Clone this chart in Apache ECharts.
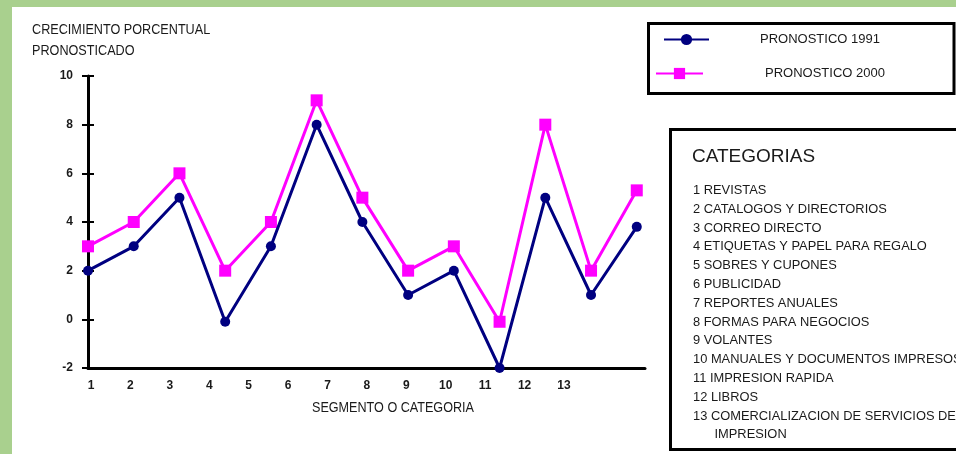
<!DOCTYPE html>
<html><head><meta charset="utf-8">
<script src="https://cdn.jsdelivr.net/npm/echarts@6/dist/echarts.min.js"></script>
<style>html,body{margin:0;padding:0;background:#a9d08e;}#c{width:956px;height:454px;}</style>
</head><body><div id="c"></div>
<script>
const segmentTicks = ['1','2','3','4','5','6','7','8','9','10','11','12','13'];
const pronostico1991 = [2, 3, 5, -0.1, 3, 8, 4, 1, 2, -2, 5, 1, 3.8];
const pronostico2000 = [3, 4, 6, 2, 4, 9, 5, 2, 3, -0.1, 8, 2, 5.3];
const seriesNames = ['PRONOSTICO 1991', 'PRONOSTICO 2000'];
const titleLines = ['CRECIMIENTO PORCENTUAL', 'PRONOSTICADO'];
const xAxisTitle = 'SEGMENTO O CATEGORIA';
const categoryHeader = 'CATEGORIAS';
const categoryNames = [
  '1 REVISTAS',
  '2 CATALOGOS Y DIRECTORIOS',
  '3 CORREO DIRECTO',
  '4 ETIQUETAS Y PAPEL PARA REGALO',
  '5 SOBRES Y CUPONES',
  '6 PUBLICIDAD',
  '7 REPORTES ANUALES',
  '8 FORMAS PARA NEGOCIOS',
  '9 VOLANTES',
  '10 MANUALES Y DOCUMENTOS IMPRESOS',
  '11 IMPRESION RAPIDA',
  '12 LIBROS',
  '13 COMERCIALIZACION DE SERVICIOS DE',
  '      IMPRESION'
];
const SANS = '"Liberation Sans", Arial, sans-serif';
const TXT = '#1a1a1a';

const chart = echarts.init(document.getElementById('c'), null, {renderer: 'canvas'});

const catGraphics = categoryNames.map((t, i) => ({
  type: 'text', x: 693, y: 190.5 + i * 18.8, z: 1, scaleX: 0.99,
  style: {text: t, fontSize: 13, fontFamily: SANS, fill: TXT, verticalAlign: 'middle'}
}));
const titleGraphics = titleLines.map((t, i) => ({
  type: 'text', x: 32, y: 30 + i * 21, z: 1, scaleX: 0.843,
  style: {text: t, fontSize: 15, fontFamily: SANS, fill: TXT, verticalAlign: 'middle'}
}));

const option = {
  backgroundColor: '#a9d08e',
  animation: false,
  graphic: [
    {type: 'rect', z: -10, silent: true, shape: {x: 12, y: 7, width: 950, height: 450}, style: {fill: '#ffffff'}},
    {type: 'rect', z: 0, shape: {x: 648.5, y: 23.5, width: 305.5, height: 70}, style: {fill: '#fff', stroke: '#000', lineWidth: 3}},
    {type: 'rect', z: 0, shape: {x: 670.5, y: 129.5, width: 300, height: 320}, style: {fill: '#fff', stroke: '#000', lineWidth: 3}},
    {type: 'text', x: 692, y: 157, z: 1, style: {text: categoryHeader, fontSize: 19, fontFamily: SANS, fill: TXT, verticalAlign: 'middle'}},
    {type: 'text', x: 312, y: 408, z: 1, scaleX: 0.9, style: {text: xAxisTitle, fontSize: 14, fontFamily: SANS, fill: TXT, verticalAlign: 'middle'}}
  ].concat(titleGraphics, catGraphics),
  legend: [
    {data: [seriesNames[0]], left: 663, top: 33, padding: 0, itemWidth: 45, itemHeight: 14, z: 5,
     textStyle: {fontSize: 13, fontFamily: SANS, color: TXT, padding: [0, 0, 0, 46]}},
    {data: [seriesNames[1]], left: 655, top: 67, padding: 0, itemWidth: 47, itemHeight: 14, z: 5,
     textStyle: {fontSize: 13, fontFamily: SANS, color: TXT, padding: [0, 0, 0, 57]}}
  ],
  grid: [
    {left: 88, top: 76, width: 557, height: 292},
    {left: 91, top: 76, width: 473, height: 292}
  ],
  xAxis: [
    {type: 'value', gridIndex: 0, min: 1, max: 13.18,
     axisLine: {onZero: false, lineStyle: {color: '#000', width: 3}},
     axisTick: {show: false}, axisLabel: {show: false}, splitLine: {show: false}},
    {type: 'category', gridIndex: 1, data: segmentTicks, boundaryGap: false,
     axisLine: {show: false}, axisTick: {show: false}, splitLine: {show: false},
     axisLabel: {fontSize: 12, fontWeight: 'bold', fontFamily: SANS, color: TXT, margin: 12, interval: 0}}
  ],
  yAxis: [
    {type: 'value', gridIndex: 0, min: -2, max: 10, interval: 2,
     axisLine: {show: true, lineStyle: {color: '#000', width: 3}},
     axisTick: {show: true, length: 6, lineStyle: {color: '#000', width: 2}},
     axisLabel: {fontSize: 12, fontWeight: 'bold', fontFamily: SANS, color: TXT, margin: 15},
     splitLine: {show: false}},
    {type: 'value', gridIndex: 0, min: -2, max: 10, interval: 2, position: 'left',
     axisLine: {show: false},
     axisTick: {show: true, inside: true, length: 6, lineStyle: {color: '#000', width: 2}},
     axisLabel: {show: false}, splitLine: {show: false}},
    {type: 'value', gridIndex: 1, show: false}
  ],
  series: [
    {name: seriesNames[0], type: 'line', xAxisIndex: 0, yAxisIndex: 0,
     data: pronostico1991.map((v, i) => [i + 1, v]),
     symbol: 'circle', symbolSize: 10, z: 4,
     lineStyle: {color: '#000080', width: 3}, itemStyle: {color: '#000080'}},
    {name: seriesNames[1], type: 'line', xAxisIndex: 0, yAxisIndex: 0,
     data: pronostico2000.map((v, i) => [i + 1, v]),
     symbol: 'rect', symbolSize: 12, z: 3,
     lineStyle: {color: '#ff00ff', width: 3}, itemStyle: {color: '#ff00ff'}}
  ]
};
chart.setOption(option);
</script></body></html>
